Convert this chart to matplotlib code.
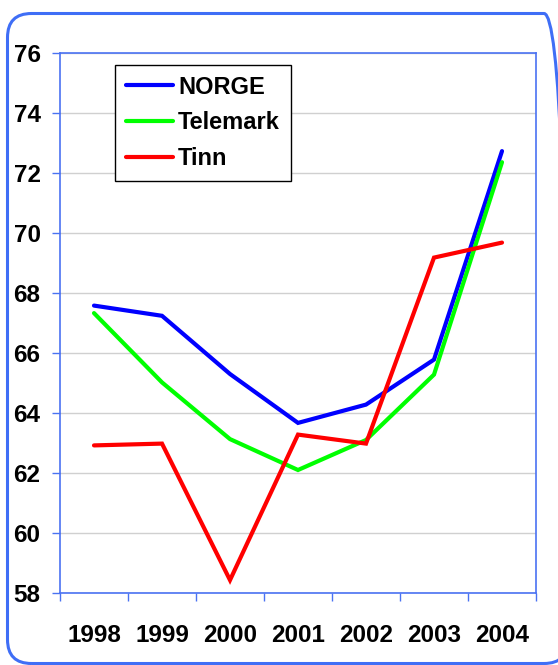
import matplotlib
matplotlib.use("Agg")
import matplotlib.pyplot as plt
from matplotlib.patches import FancyBboxPatch
import numpy as np

years = ["1998", "1999", "2000", "2001", "2002", "2003", "2004"]
norge = [67.58, 67.24, 65.30, 63.67, 64.28, 65.78, 72.73]
telemark = [67.33, 65.02, 63.13, 62.10, 63.10, 65.28, 72.36]
tinn = [62.92, 62.98, 58.43, 63.28, 62.98, 69.18, 69.68]
series_names = ["NORGE", "Telemark", "Tinn"]
series_colors = ["#0000ff", "#00ff00", "#ff0000"]
yticks = [58, 60, 62, 64, 66, 68, 70, 72, 74, 76]

plt.rcParams['font.family'] = ['Liberation Sans', 'DejaVu Sans']
plt.rcParams['font.weight'] = 'bold'

W, H = 558, 665
fig = plt.figure(figsize=(W / 100, H / 100), dpi=100)
fig.patch.set_facecolor('white')

# rounded border (right edge lies just outside the canvas)
border = FancyBboxPatch((0.075, 0.015), 5.68 - 0.075, 6.515 - 0.015,
                        boxstyle="round,pad=0,rounding_size=0.24",
                        transform=fig.dpi_scale_trans, facecolor='none',
                        edgecolor='#3f6ef6', linewidth=2.2, zorder=0)
fig.add_artist(border)

ax_l, ax_r, ax_t, ax_b = 60, 536, 53, 593
ax = fig.add_axes([ax_l / W, 1 - ax_b / H, (ax_r - ax_l) / W, (ax_b - ax_t) / H])
ax.set_facecolor('white')

x = np.arange(len(years))
for vals, name, col in zip([norge, telemark, tinn], series_names, series_colors):
    ax.plot(x, vals, color=col, lw=3.0, label=name,
            solid_joinstyle='miter', solid_capstyle='round', zorder=3)

ax.set_xlim(-0.5, len(years) - 0.5)
ax.set_ylim(58, 76)
ax.set_yticks(yticks)
ax.set_yticklabels([str(v) for v in yticks])
ax.set_xticks(x)
ax.set_xticklabels(years)
ax.set_xticks(np.arange(-0.5, len(years) + 0.5, 1), minor=True)

spine_col = '#4a72f2'
for s in ax.spines.values():
    s.set_color(spine_col)
    s.set_linewidth(1.2)

ax.grid(axis='y', color='#d0d0d0', lw=1.0, zorder=0)
ax.set_axisbelow(True)

ax.tick_params(axis='y', which='major', length=5.5, color=spine_col, width=1,
               labelsize=17.5, pad=8.5, labelcolor='black')
ax.tick_params(axis='x', which='major', length=0, labelsize=17.5, pad=22,
               labelcolor='black')
ax.tick_params(axis='x', which='minor', length=5.5, color=spine_col, width=1)
for lab in ax.get_xticklabels() + ax.get_yticklabels():
    lab.set_fontweight('bold')

leg = ax.legend(loc='upper left', bbox_to_anchor=(0.1155, 0.978),
                borderaxespad=0, frameon=True, fancybox=False, shadow=False,
                prop={'size': 17, 'weight': 'bold'}, handlelength=2.0,
                handletextpad=0.22, borderpad=0.45, labelspacing=0.55)
leg.get_frame().set_edgecolor('black')
leg.get_frame().set_linewidth(1.0)
leg.get_frame().set_alpha(1)
for lh in leg.get_lines():
    lh.set_solid_capstyle('round')

fig.savefig("out.png", dpi=100)
